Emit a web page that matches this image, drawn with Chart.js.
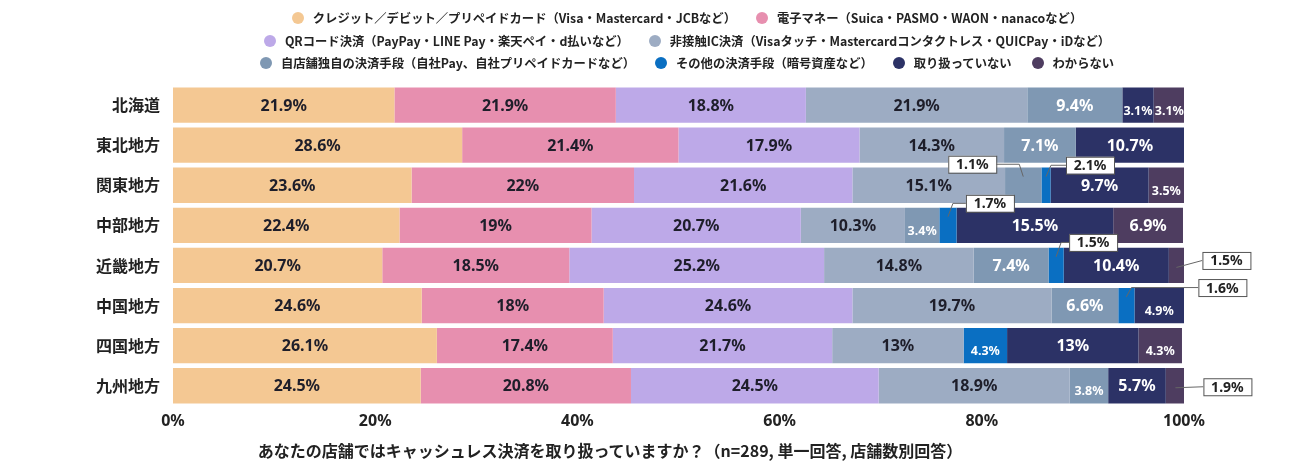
<!DOCTYPE html>
<html lang="ja">
<head>
<meta charset="utf-8">
<script src="https://cdn.jsdelivr.net/npm/chart.js@4.4.0/dist/chart.umd.min.js"></script>
<style>
  body { margin: 0; background: #fff; font-family: "Noto Sans", "Noto Sans CJK JP", sans-serif; }
  #wrap { position: relative; width: 1299px; height: 471px; overflow: hidden; }
  #legend { position: absolute; left: 75px; right: 0; top: 7px; }
  .lrow { display: flex; justify-content: center; align-items: center; height: 22.5px; }
  .litem { display: flex; align-items: center; margin: 0 10px; font-size: 12.3px; font-weight: 700; color: #222; white-space: nowrap; font-family: "Noto Sans CJK JP", sans-serif; }
  .dot { width: 12px; height: 12px; border-radius: 50%; margin-right: 9px; }
  #xtitle { position: absolute; top: 438px; left: 0; width: 1220px; text-align: center; font-size: 16px; font-weight: 700; color: #222; font-family: "Noto Sans CJK JP", sans-serif; }
</style>
</head>
<body>
<div id="wrap">
  <canvas id="chart" width="1299" height="471"></canvas>
  <div id="legend"></div>
  <div id="xtitle">あなたの店舗ではキャッシュレス決済を取り扱っていますか？（n=289, 単一回答, 店舗数別回答）</div>
</div>
<script>
// --- data ---
const regions = ['北海道', '東北地方', '関東地方', '中部地方', '近畿地方', '中国地方', '四国地方', '九州地方'];
const seriesNames = [
  'クレジット／デビット／プリペイドカード（Visa・Mastercard・JCBなど）',
  '電子マネー（Suica・PASMO・WAON・nanacoなど）',
  'QRコード決済（PayPay・LINE Pay・楽天ペイ・d払いなど）',
  '非接触IC決済（Visaタッチ・Mastercardコンタクトレス・QUICPay・iDなど）',
  '自店舗独自の決済手段（自社Pay、自社プリペイドカードなど）',
  'その他の決済手段（暗号資産など）',
  '取り扱っていない',
  'わからない'
];
const credit      = [21.9, 28.6, 23.6, 22.4, 20.7, 24.6, 26.1, 24.5];
const emoney      = [21.9, 21.4, 22, 19, 18.5, 18, 17.4, 20.8];
const qrCode      = [18.8, 17.9, 21.6, 20.7, 25.2, 24.6, 21.7, 24.5];
const contactless = [21.9, 14.3, 15.1, 10.3, 14.8, 19.7, 13, 18.9];
const ownPay      = [9.4, 7.1, 3.6, 3.4, 7.4, 6.6, null, 3.8];
const otherPay    = [null, null, 0.9, 1.7, 1.5, 1.6, 4.3, null];
const notHandled  = [3.1, 10.7, 9.7, 15.5, 10.4, 4.9, 13, 5.7];
const unknown     = [3.1, null, 3.5, 6.9, 1.5, null, 4.3, 1.9];
const xTicks = [0, 20, 40, 60, 80, 100];

const colors = ['#F4C893', '#E78FAF', '#BDA9E8', '#9DACC3', '#7F98B3', '#0A6FC2', '#2C3266', '#4E3D60'];
const textColors = ['#1e1e2a', '#1e1e2a', '#1e1e2a', '#1e1e2a', '#fff', '#fff', '#fff', '#fff'];

// boxed labels for the thin segments: row, dataset, text, box offset from segment centre
const callouts = [
  { row: 2, ds: 4, text: '1.1%', dx: -51, dy: -21 },
  { row: 2, ds: 5, text: '2.1%', dx: 44, dy: -20 },
  { row: 3, ds: 5, text: '1.7%', dx: 42, dy: -22 },
  { row: 4, ds: 5, text: '1.5%', dx: 37, dy: -23 },
  { row: 4, ds: 7, text: '1.5%', dx: 50, dy: -5 },
  { row: 5, ds: 5, text: '1.6%', dx: 96, dy: -18 },
  { row: 7, ds: 7, text: '1.9%', dx: 52, dy: 1 }
];

// --- legend (HTML, three rows like the original) ---
const legendRows = [[0, 1], [2, 3], [4, 5, 6, 7]];
const legendEl = document.getElementById('legend');
legendRows.forEach(r => {
  const row = document.createElement('div');
  row.className = 'lrow';
  r.forEach(i => {
    row.innerHTML += `<div class="litem"><span class="dot" style="background:${colors[i]}"></span>${seriesNames[i]}</div>`;
  });
  legendEl.appendChild(row);
});

const allSeries = [credit, emoney, qrCode, contactless, ownPay, otherPay, notHandled, unknown];

// segment labels + callout boxes
const labelPlugin = {
  id: 'segLabels',
  afterDatasetsDraw(chart) {
    const ctx = chart.ctx;
    ctx.save();
    ctx.textAlign = 'center';
    ctx.textBaseline = 'middle';
    chart.data.datasets.forEach((ds, di) => {
      const meta = chart.getDatasetMeta(di);
      meta.data.forEach((bar, i) => {
        const v = ds.data[i];
        if (v == null || callouts.some(c => c.row === i && c.ds === di)) return;
        const cx = (bar.x + bar.base) / 2;
        const small = v < 5;
        ctx.font = `700 ${small ? 12.5 : 16}px "Noto Sans", sans-serif`;
        ctx.fillStyle = textColors[di];
        ctx.fillText(v + '%', cx, bar.y + (small ? 6 : 1));
      });
    });

    callouts.forEach(c => {
      const bar = chart.getDatasetMeta(c.ds).data[c.row];
      const cx = (bar.x + bar.base) / 2;
      const top = bar.y - bar.height / 2;
      const bx = cx + c.dx, by = bar.y + c.dy;
      const w = 48, h = 17;
      const edge = c.dx > 0 ? bx - w / 2 : bx + w / 2;
      // leader line
      ctx.strokeStyle = '#666';
      ctx.lineWidth = 1;
      ctx.beginPath();
      ctx.moveTo(edge, by);
      if (Math.abs(c.dy) > 10) {
        const ex = cx + (c.dx > 0 ? 5 : -4);
        ctx.lineTo(ex, by);
        ctx.lineTo(cx, top + 9);
      } else {
        ctx.lineTo(cx, bar.y + 2);
      }
      ctx.stroke();
      // box
      ctx.fillStyle = '#fff';
      ctx.fillRect(bx - w / 2, by - h / 2, w, h);
      ctx.strokeStyle = '#555';
      ctx.strokeRect(bx - w / 2 + 0.5, by - h / 2 + 0.5, w, h);
      ctx.font = '700 14px "Noto Sans", sans-serif';
      ctx.fillStyle = '#222';
      ctx.fillText(c.text, bx, by + 1);
    });
    ctx.restore();
  }
};

new Chart(document.getElementById('chart'), {
  type: 'bar',
  data: {
    labels: regions,
    datasets: allSeries.map((d, i) => ({
      label: seriesNames[i],
      data: d,
      backgroundColor: colors[i],
      borderWidth: 0,
      barPercentage: 0.88,
      categoryPercentage: 1
    }))
  },
  options: {
    indexAxis: 'y',
    responsive: false,
    animation: false,
    layout: { padding: { top: 85, right: 115, bottom: 34, left: 0 } },
    plugins: { legend: { display: false }, tooltip: { enabled: false } },
    scales: {
      x: {
        stacked: true,
        min: 0,
        max: 100,
        afterBuildTicks: s => { s.ticks = xTicks.map(v => ({ value: v })); },
        grid: { display: false, drawTicks: false },
        border: { display: false },
        ticks: {
          padding: 6,
          color: '#222',
          font: { size: 16, weight: '700', family: '"Noto Sans", sans-serif' },
          callback: v => v + '%'
        }
      },
      y: {
        stacked: true,
        afterFit: s => { s.width = 173; },
        grid: { display: false, drawTicks: false },
        border: { display: false },
        ticks: {
          padding: 13,
          color: '#222',
          font: { size: 16, weight: '700', family: '"Noto Sans CJK JP", sans-serif' }
        }
      }
    }
  },
  plugins: [labelPlugin]
});
</script>
</body>
</html>
